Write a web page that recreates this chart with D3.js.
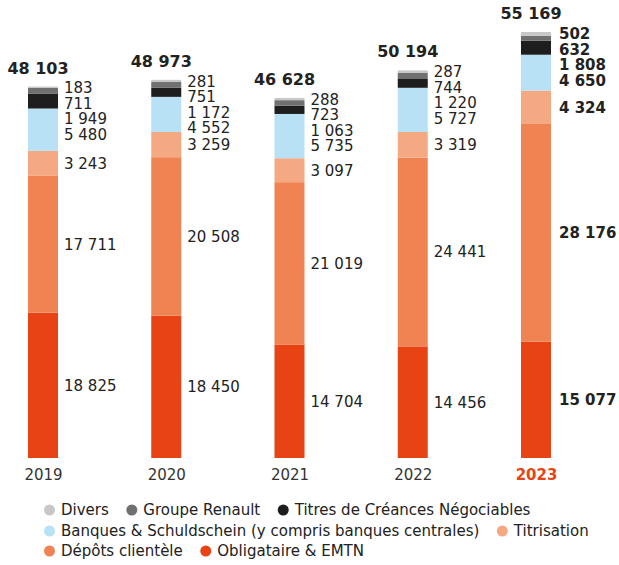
<!DOCTYPE html>
<html>
<head>
<meta charset="utf-8">
<script src="https://cdn.jsdelivr.net/npm/d3@7"></script>
<style>
  html, body { margin: 0; padding: 0; background: #fff; }
  svg { display: block; }
  text { font-family: "DejaVu Sans", sans-serif; }
</style>
</head>
<body>
<svg id="chart" width="619" height="565"></svg>
<script>
// ---- Data ----
const years = ["2019", "2020", "2021", "2022", "2023"];
const totals = [48103, 48973, 46628, 50194, 55169];
const obligataire = [18825, 18450, 14704, 14456, 15077];
const depots = [17711, 20508, 21019, 24441, 28176];
const titrisation = [3243, 3259, 3097, 3319, 4324];
const banques = [5480, 4552, 5735, 5727, 4650];
const tcn = [1949, 1172, 1063, 1220, 1808];
const groupeRenault = [711, 751, 723, 744, 632];
const divers = [183, 281, 288, 287, 502];

// stacking order bottom -> top
const seriesKeys = ["obligataire", "depots", "titrisation", "banques", "tcn", "groupeRenault", "divers"];
const seriesNames = {
  obligataire: "Obligataire & EMTN",
  depots: "Dépôts clientèle",
  titrisation: "Titrisation",
  banques: "Banques & Schuldschein (y compris banques centrales)",
  tcn: "Titres de Créances Négociables",
  groupeRenault: "Groupe Renault",
  divers: "Divers"
};
const seriesValues = { obligataire, depots, titrisation, banques, tcn, groupeRenault, divers };
const colors = {
  obligataire: "#e84315",
  depots: "#ef8452",
  titrisation: "#f5a982",
  banques: "#b9e1f6",
  tcn: "#1e1e1e",
  groupeRenault: "#707070",
  divers: "#c8c8c8"
};
// legend rows (as in the reference)
const legendRows = [
  ["divers", "groupeRenault", "tcn"],
  ["banques", "titrisation"],
  ["depots", "obligataire"]
];
const highlightYear = "2023";

// ---- Build table ----
const table = years.map((y, i) => {
  const row = { year: y, total: totals[i] };
  seriesKeys.forEach(k => row[k] = seriesValues[k][i]);
  return row;
});

const svg = d3.select("#chart");
const fmt = v => d3.format(",")(v).replace(/,/g, " ");

const x = d3.scalePoint().domain(years).range([43, 536]);
const barW = 30;
const y = d3.scaleLinear().domain([0, d3.max(totals)]).range([458, 32]);

const stack = d3.stack().keys(seriesKeys);
const stacked = stack(table);

// bars
const g = svg.append("g");
stacked.forEach(layer => {
  g.selectAll(null)
    .data(layer)
    .join("rect")
    .attr("x", d => x(d.data.year) - barW / 2)
    .attr("width", barW)
    .attr("y", d => y(d[1]))
    .attr("height", d => y(d[0]) - y(d[1]))
    .attr("fill", colors[layer.key]);
});

// segment labels with collision avoidance (top -> bottom)
const gap = 15.5;
table.forEach((row, i) => {
  const hl = row.year === highlightYear;
  const topKeys = seriesKeys.slice().reverse();
  const top = y(d3.sum(seriesKeys, k => row[k]));
  let prev = null;
  const labels = [];
  topKeys.forEach((k) => {
    const layer = stacked.find(s => s.key === k);
    const d = layer[i];
    const center = (y(d[0]) + y(d[1])) / 2;
    let pos;
    if (prev === null) pos = Math.max(center, top + 1.5);
    else pos = Math.max(center, prev + gap);
    prev = pos;
    labels.push({ k, v: row[k], pos });
  });
  svg.append("g").selectAll("text")
    .data(labels)
    .join("text")
    .attr("x", x(row.year) + barW / 2 + (hl ? 8 : 6))
    .attr("y", d => d.pos)
    .attr("dy", "0.36em")
    .attr("fill", "#222")
    .attr("font-size", 15)
    .attr("font-weight", hl ? "bold" : "normal")
    .text(d => fmt(d.v));

  // total label
  svg.append("text")
    .attr("x", x(row.year) - 5)
    .attr("y", y(row.total) - 13)
    .attr("text-anchor", "middle")
    .attr("font-size", 16)
    .attr("font-weight", "bold")
    .attr("fill", "#222")
    .text(fmt(row.total));
});

// x axis labels
const xAxis = d3.axisBottom(x).tickSize(0).tickPadding(0);
const ax = svg.append("g").attr("transform", "translate(0,468)").call(xAxis);
ax.select(".domain").remove();
ax.selectAll("text")
  .attr("dy", "0.78em")
  .attr("font-family", "DejaVu Sans")
  .attr("font-size", 15)
  .attr("fill", d => d === highlightYear ? "#e84315" : "#333")
  .attr("font-weight", d => d === highlightYear ? "bold" : "normal");

// legend
const rowY = [510, 531, 551];
legendRows.forEach((keys, r) => {
  let cx = 49.5;
  keys.forEach(k => {
    const lg = svg.append("g");
    lg.append("circle")
      .attr("cx", cx).attr("cy", rowY[r]).attr("r", 5.5)
      .attr("fill", colors[k]);
    const t = lg.append("text")
      .attr("x", cx + 11.5)
      .attr("y", rowY[r])
      .attr("dy", "0.35em")
      .attr("font-size", 15)
      .attr("fill", "#222")
      .text(seriesNames[k]);
    const w = t.node().getComputedTextLength();
    cx = cx + 11.5 + w + 23;
  });
});
</script>
</body>
</html>
